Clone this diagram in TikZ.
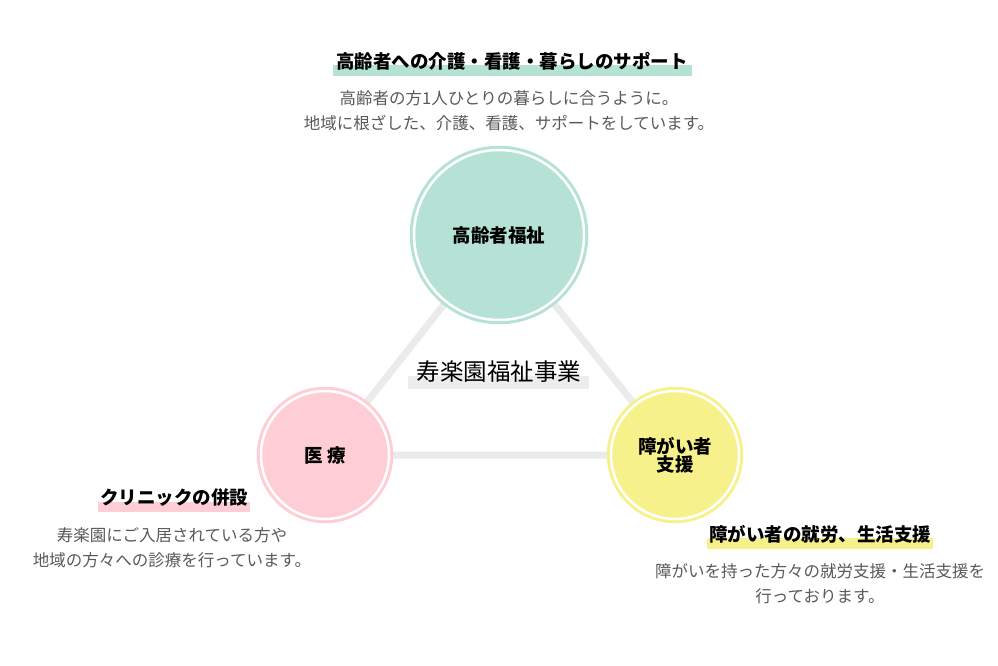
\documentclass[tikz,border=0pt]{standalone}
\usepackage{fontspec}
\setmainfont{Noto Sans CJK JP}
\begin{document}
\begin{tikzpicture}[x=1pt,y=-1pt,
  circ/.style={circle,draw=#1,line width=3pt,double=white,double distance=2.5pt,fill=#1,font=\bfseries\fontsize{18.5}{21}\selectfont,align=center,text=black},
  link/.style={draw=black!8,line width=7pt},
  head/.style={font=\bfseries\fontsize{18.5}{20}\selectfont,text=black,inner sep=1pt},
  body/.style={font=\fontsize{16.5}{25}\selectfont,text=black!65,align=center}]
\useasboundingbox (0,0) rectangle (998,665);
\colorlet{teal}{rgb,255:red,181;green,226;blue,213}
\colorlet{pinkc}{rgb,255:red,255;green,205;blue,214}
\colorlet{yel}{rgb,255:red,247;green,241;blue,140}
\coordinate (ct) at (499,235);
\coordinate (cl) at (325,455);
\coordinate (cr) at (675,455);
\draw[link] (ct) -- (cl) -- (cr) -- cycle;
\node[circ=teal,minimum size=170pt] (t) at (ct) {高齢者福祉};
\node[circ=pinkc,minimum size=128pt] (l) at (cl) {医 療};
\node[circ=yel,minimum size=128pt] (r) at (cr) {障がい者\\[-3pt]支援};
\fill[black!7] (408,376) rectangle (589,389);
\node[font=\fontsize{23.5}{26}\selectfont,text=black] (c) at (499,372) {寿楽園福祉事業};
\fill[teal] (333,65) rectangle (692,76);
\node[head] (h1) at (512,61) {高齢者への介護・看護・暮らしのサポート};
\node[body] (b1) at (509,111) {高齢者の方1人ひとりの暮らしに合うように。\\地域に根ざした、介護、看護、サポートをしています。};
\fill[pinkc] (98,502) rectangle (250,512);
\node[head] (h2) at (174,498) {クリニックの併設};
\node[body] (b2) at (172,548) {寿楽園にご入居されている方や\\地域の方々への診療を行っています。};
\fill[yel] (707,538) rectangle (933,549);
\node[head] (h3) at (820,534) {障がい者の就労、生活支援};
\node[body] (b3) at (820,584) {障がいを持った方々の就労支援・生活支援を\\行っております。};
\end{tikzpicture}
\end{document}
